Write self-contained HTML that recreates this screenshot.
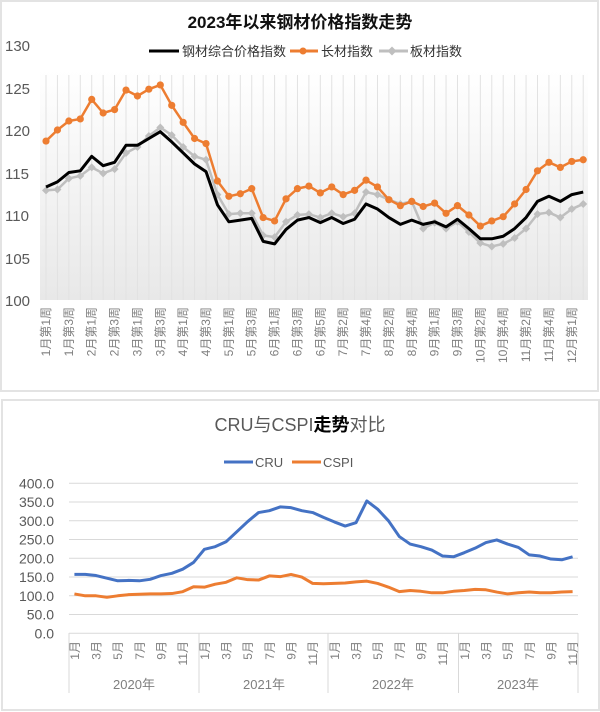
<!DOCTYPE html>
<html><head><meta charset="utf-8"><style>
body{margin:0;background:#fff;width:600px;height:712px;overflow:hidden}
svg{display:block;font-family:"Liberation Sans","Noto Sans CJK SC",sans-serif}
</style></head><body>
<svg id="s" width="600" height="712" xmlns="http://www.w3.org/2000/svg">
<defs><linearGradient id="g" x1="0" y1="0" x2="0" y2="1">
<stop offset="0" stop-color="#ffffff"/><stop offset="1" stop-color="#e8e8e8"/></linearGradient></defs>
<rect x="1" y="1" width="597" height="390" fill="#fff" stroke="#e3e3e3" stroke-width="2"/>
<rect x="2" y="400" width="597" height="310" fill="#fff" stroke="#e3e3e3" stroke-width="2"/>
<rect x="40" y="70" width="548" height="230" fill="url(#g)"/>
<text x="300" y="28" text-anchor="middle" font-size="17" font-weight="bold" fill="#111">2023年以来钢材价格指数走势</text>
<g font-size="15" fill="#595959">
<text x="5" y="51">130</text><text x="5" y="94">125</text><text x="5" y="136">120</text><text x="5" y="179">115</text><text x="5" y="221">110</text><text x="5" y="264">105</text><text x="5" y="306">100</text></g>
<g font-size="13" fill="#333">
<line x1="149" y1="51" x2="179" y2="51" stroke="#000" stroke-width="3"/><text x="182" y="56">钢材综合价格指数</text>
<line x1="290" y1="51" x2="318" y2="51" stroke="#ed7d31" stroke-width="3"/><circle cx="303" cy="51" r="3.5" fill="#ed7d31"/><text x="321" y="56">长材指数</text>
<line x1="379" y1="51" x2="408" y2="51" stroke="#bfbfbf" stroke-width="3"/><path d="M392 46.5L396.5 51L392 55.5L387.5 51Z" fill="#bfbfbf"/><text x="410" y="56">板材指数</text>
</g>
<g id="top"></g>
<text x="300" y="431" text-anchor="middle" font-size="18" fill="#595959">CRU与CSPI<tspan fill="#000" font-weight="bold">走势</tspan>对比</text>
<g font-size="13" fill="#595959">
<line x1="224" y1="462" x2="253" y2="462" stroke="#4472c4" stroke-width="3"/><text x="255" y="467">CRU</text>
<line x1="292" y1="462" x2="321" y2="462" stroke="#ed7d31" stroke-width="3"/><text x="323" y="467">CSPI</text>
</g>
<g id="bot"></g>
</svg>
<script>
const NS="http://www.w3.org/2000/svg";
function el(p,t,a,txt){const e=document.createElementNS(NS,t);for(const k in a)e.setAttribute(k,a[k]);if(txt)e.textContent=txt;p.appendChild(e);return e;}
const top_=document.getElementById('top');
const X=i=>46+i*11.43, Y=v=>300-(v-100)*8.5;
for(let i=0;i<48;i++)el(top_,'line',{x1:X(i),y1:75,x2:X(i),y2:300,stroke:'#e2e2e2','stroke-width':1});
const orange=[118.7,120.0,121.06,121.3,123.6,122.0,122.4,124.7,124.0,124.8,125.3,122.9,120.9,119.0,118.4,114.0,112.2,112.5,113.1,109.7,109.3,111.9,113.1,113.4,112.6,113.3,112.4,112.9,114.1,113.3,111.8,111.1,111.6,111.0,111.4,110.2,111.1,110.0,108.7,109.3,109.8,111.3,113.0,115.2,116.2,115.6,116.3,116.5];
const black=[113.3,113.9,115.0,115.2,116.9,115.8,116.2,118.2,118.2,119.0,119.8,118.6,117.3,116.0,115.1,111.2,109.2,109.4,109.6,106.9,106.6,108.3,109.4,109.7,109.1,109.7,109.0,109.5,111.3,110.7,109.7,108.9,109.4,108.9,109.2,108.6,109.5,108.4,107.2,107.2,107.5,108.4,109.7,111.6,112.2,111.6,112.4,112.7];
const gray=[112.9,113.0,114.3,114.6,115.6,114.9,115.4,117.3,118.0,119.3,120.3,119.4,118.0,116.9,116.5,112.4,110.1,110.2,110.2,107.6,107.4,109.2,110.0,110.1,109.7,110.2,109.8,110.2,112.7,112.4,111.8,111.3,111.6,108.4,109.1,108.4,109.2,108.0,106.7,106.3,106.6,107.3,108.4,110.1,110.3,109.7,110.7,111.3];
function pl(g,arr,fx,fy,c,w){el(g,'polyline',{points:arr.map((v,i)=>fx(i)+','+fy(v)).join(' '),fill:'none',stroke:c,'stroke-width':w,'stroke-linejoin':'round'});}
pl(top_,gray,X,Y,'#bfbfbf',2.5);
gray.forEach((v,i)=>{const x=X(i),y=Y(v);el(top_,'path',{d:`M${x} ${y-4}L${x+4} ${y}L${x} ${y+4}L${x-4} ${y}Z`,fill:'#bfbfbf'});});
pl(top_,orange,X,Y,'#ed7d31',2.5);
orange.forEach((v,i)=>el(top_,'circle',{cx:X(i),cy:Y(v),r:3.6,fill:'#ed7d31'}));
pl(top_,black,X,Y,'#000',3);
const labs=["1月第1周","1月第3周","2月第1周","2月第3周","3月第1周","3月第3周","4月第1周","4月第3周","5月第1周","5月第3周","6月第1周","6月第3周","6月第5周","7月第2周","7月第4周","8月第2周","8月第4周","9月第1周","9月第3周","10月第2周","10月第4周","11月第2周","11月第4周","12月第1周"];
labs.forEach((t,k)=>{const x=X(k*2)+4,y=307;el(top_,'text',{x:x,y:y,transform:`rotate(-90 ${x} ${y})`,'text-anchor':'end','font-size':12,fill:'#7f7f7f'},t);});
// bottom
const b=document.getElementById('bot');
const BY=v=>633.3-v*0.375, BX=i=>69+(i+0.5)*10.83;
for(let k=0;k<=8;k++){const y=BY(k*50);el(b,'line',{x1:69,y1:y,x2:578,y2:y,stroke:'#d9d9d9','stroke-width':1});
el(b,'text',{x:54,y:y+5,'text-anchor':'end','font-size':14,fill:'#595959'},(k*50).toFixed(1));}
[69,199,328,458.5,578].forEach(x=>el(b,'line',{x1:x,y1:633,x2:x,y2:693,stroke:'#d9d9d9','stroke-width':1}));
const cru=[157,157,154,147,140,141,140,144,154,160,171,189,224,231,244,271,298,322,327,337,335,327,322,309,297,286,295,353,331,300,258,238,231,222,206,204,215,227,242,249,238,229,209,206,198,196,204];
const cspi=[105,100,100,96,100,103,104,105,105,106,111,124,123,131,136,148,143,142,153,151,157,150,133,132,133,134,137,139,133,123,111,114,112,108,108,112,114,117,116,110,105,108,110,108,108,110,111];
pl(b,cspi,BX,BY,'#ed7d31',3);
pl(b,cru,BX,BY,'#4472c4',3);
for(let i=0;i<47;i+=2){const m=(i%12)+1;const x=BX(i)+4.5,y=641;el(b,'text',{x:x,y:y,transform:`rotate(-90 ${x} ${y})`,'text-anchor':'end','font-size':12,fill:'#7f7f7f'},m+'月');}
[["2020年",134],["2021年",264],["2022年",393],["2023年",518]].forEach(a=>el(b,'text',{x:a[1],y:689,'text-anchor':'middle','font-size':13,fill:'#7f7f7f'},a[0]));
</script>
</body></html>
